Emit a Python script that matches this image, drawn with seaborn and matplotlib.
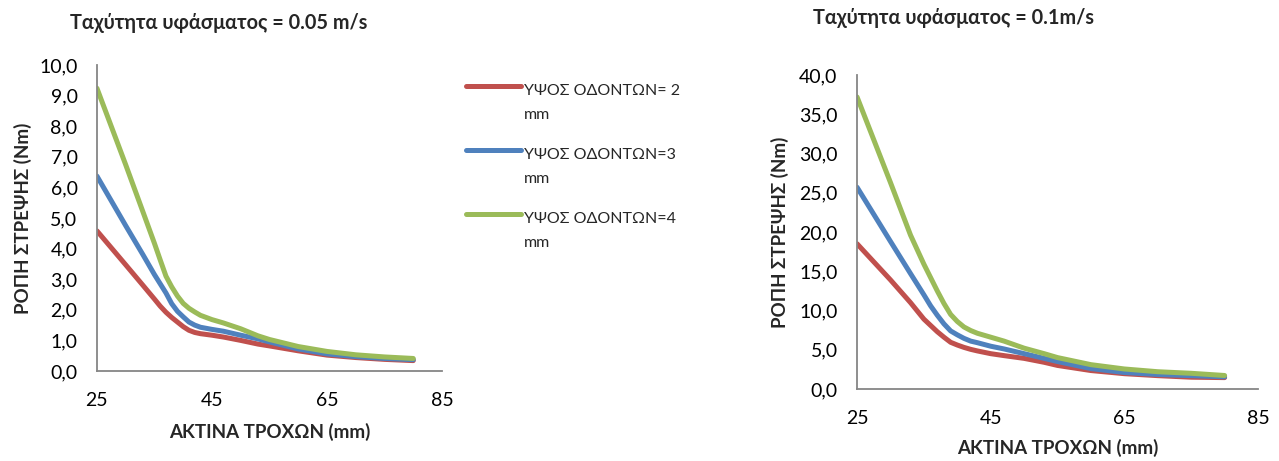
import matplotlib
matplotlib.use("Agg")
import matplotlib.pyplot as plt
from matplotlib.ticker import FuncFormatter, FixedLocator
from matplotlib.legend_handler import HandlerLine2D
import numpy as np
import pandas as pd
import seaborn as sns

# Wheel radius (mm)
radius = [25, 30, 33, 35, 36, 37, 38, 39, 40, 41, 42, 43, 45, 47, 50, 53, 55, 60, 65, 70, 75, 80]

# Torque (Nm), fabric speed 0.05 m/s
torque_slow_h2 = [4.58, 3.47, 2.80, 2.35, 2.12, 1.92, 1.75, 1.60, 1.45, 1.33, 1.26, 1.22,
                  1.17, 1.11, 1.00, 0.88, 0.82, 0.66, 0.52, 0.44, 0.38, 0.34]
torque_slow_h3 = [6.37, 4.75, 3.80, 3.15, 2.85, 2.55, 2.20, 1.95, 1.77, 1.60, 1.50, 1.43,
                  1.36, 1.30, 1.17, 1.05, 0.95, 0.72, 0.56, 0.47, 0.41, 0.37]
torque_slow_h4 = [9.24, 6.74, 5.20, 4.17, 3.63, 3.10, 2.75, 2.45, 2.21, 2.05, 1.93, 1.82,
                  1.68, 1.57, 1.38, 1.15, 1.03, 0.80, 0.64, 0.53, 0.46, 0.41]

# Torque (Nm), fabric speed 0.1 m/s
torque_fast_h2 = [18.5, 13.9, 11.0, 8.9, 8.1, 7.3, 6.6, 5.95, 5.6, 5.3, 5.05, 4.85,
                  4.5, 4.25, 3.9, 3.4, 3.0, 2.35, 1.95, 1.70, 1.50, 1.45]
torque_fast_h3 = [25.7, 18.8, 14.7, 12.0, 10.6, 9.4, 8.3, 7.4, 6.9, 6.45, 6.1, 5.9,
                  5.45, 5.1, 4.5, 3.9, 3.5, 2.6, 2.1, 1.85, 1.70, 1.55]
torque_fast_h4 = [37.2, 26.3, 19.6, 15.9, 14.2, 12.5, 10.9, 9.5, 8.6, 7.9, 7.45, 7.1,
                  6.6, 6.1, 5.2, 4.5, 4.0, 3.1, 2.55, 2.20, 2.00, 1.72]

series_names = ["ΥΨΟΣ ΟΔΟΝΤΩΝ= 2\nmm", "ΥΨΟΣ ΟΔΟΝΤΩΝ=3\nmm", "ΥΨΟΣ ΟΔΟΝΤΩΝ=4\nmm"]
series_colors = ["#C0504D", "#4F81BD", "#9BBB59"]

titles = ["Ταχύτητα υφάσματος = 0.05 m/s", "Ταχύτητα υφάσματος = 0.1m/s"]
x_label = "ΑΚΤΙΝΑ ΤΡΟΧΩΝ (mm)"
y_label = "ΡΟΠΗ ΣΤΡΕΨΗΣ (Nm)"
x_ticks = [25, 45, 65, 85]
y_ticks_slow = [0, 1, 2, 3, 4, 5, 6, 7, 8, 9, 10]
y_ticks_fast = [0, 5, 10, 15, 20, 25, 30, 35, 40]


def long_frame(values):
    rows = []
    for name, ys in zip(series_names, values):
        for x, y in zip(radius, ys):
            rows.append({"radius": x, "torque": y, "series": name})
    return pd.DataFrame(rows)


sns.set_theme(style="white")
plt.rcParams["font.family"] = ["Lato", "DejaVu Sans"]

fig = plt.figure(figsize=(12.79, 4.61), dpi=100)
ax1 = fig.add_axes([0.0758, 0.1952, 0.2698, 0.6638])
ax2 = fig.add_axes([0.6701, 0.1562, 0.3135, 0.6811])

spine_color = "#868686"
line_width = 3.6


def style_axes(ax, df, yticks, ymax, ylabel_pad, xlabel_pad):
    sns.lineplot(data=df, x="radius", y="torque", hue="series", palette=series_colors,
                 hue_order=series_names, linewidth=line_width, sort=False, estimator=None,
                 legend=False, ax=ax)
    for line in ax.get_lines():
        line.set_solid_capstyle("round")
        line.set_solid_joinstyle("round")
    ax.set_xlim(25, 85)
    ax.set_ylim(0, ymax)
    ax.xaxis.set_major_locator(FixedLocator(x_ticks))
    ax.yaxis.set_major_locator(FixedLocator(yticks))
    ax.yaxis.set_major_formatter(FuncFormatter(lambda v, p: f"{v:.1f}".replace(".", ",")))
    ax.tick_params(axis="both", length=0, labelsize=14, colors="black")
    ax.tick_params(axis="y", pad=14)
    ax.tick_params(axis="x", pad=15)
    for side in ["top", "right"]:
        ax.spines[side].set_visible(False)
    for side in ["left", "bottom"]:
        ax.spines[side].set_color(spine_color)
        ax.spines[side].set_linewidth(1.3)
    ax.set_xlabel(x_label, fontsize=13.5, fontweight="bold", labelpad=xlabel_pad)
    ax.set_ylabel(y_label, fontsize=13.5, fontweight="bold", labelpad=ylabel_pad)
    ax.grid(False)


style_axes(ax1, long_frame([torque_slow_h2, torque_slow_h3, torque_slow_h4]),
           y_ticks_slow, 10, 5, 10)
style_axes(ax2, long_frame([torque_fast_h2, torque_fast_h3, torque_fast_h4]),
           y_ticks_fast, 40, 7, 9)

fig.text(0.1708, 0.950, titles[0], fontsize=14.3, fontweight="bold", ha="center", va="center")
fig.text(0.7455, 0.960, titles[1], fontsize=14.3, fontweight="bold", ha="center", va="center")


class FirstLineHandler(HandlerLine2D):
    """Legend line drawn level with the first line of a two-line label."""

    def __init__(self, shift, **kw):
        super().__init__(**kw)
        self.shift = shift

    def create_artists(self, legend, orig_handle, xdescent, ydescent, width, height,
                       fontsize, trans):
        artists = super().create_artists(legend, orig_handle, xdescent, ydescent,
                                         width, height, fontsize, trans)
        for a in artists:
            a.set_ydata(np.asarray(a.get_ydata()) + self.shift * fontsize)
        return artists


handles = [plt.Line2D([], [], color=c, linewidth=line_width, solid_capstyle="round")
           for c in series_colors]
leg = fig.legend(handles, series_names, loc="upper left", bbox_to_anchor=(0.353, 0.849),
                 frameon=False, fontsize=11.5, handlelength=3.45, handletextpad=0.2,
                 labelspacing=1.6,
                 handler_map={plt.Line2D: FirstLineHandler(1.06)})
for t in leg.get_texts():
    t.set_linespacing(1.95)

fig.savefig("out.png", dpi=100, facecolor="white")
